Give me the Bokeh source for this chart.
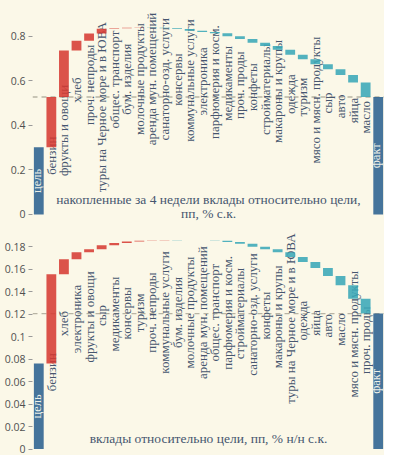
from bokeh.plotting import figure
from bokeh.models import Span, Label, FixedTicker
from bokeh.layouts import column
from bokeh.embed import file_html
from bokeh.resources import INLINE
from bokeh.core.properties import value

# ---------------- data: top chart ----------------
top_cats = ["цель", "бензин", "фрукты и овощи", "хлеб", "проч. непроды",
            "туры на Черное море и в ЮВА", "общес. транспорт", "бум. изделия",
            "молочные продукты", "аренда мун. помещений", "санаторно-озд. услуги",
            "консервы", "коммунальные услуги", "электроника", "парфюмерия и косм.",
            "медикаменты", "проч. проды", "конфеты", "стройматериалы",
            "макароны и крупы", "одежда", "туризм", "мясо и мясн. продукты",
            "сыр", "авто", "яйца", "масло", "факт"]
top_goal = 0.302
top_deltas = [0.225, 0.209, 0.043, 0.033, 0.021, 0.003, 0.002, 0.001,
              -0.001, -0.002, -0.004, -0.008, -0.005, -0.006, -0.013, -0.013,
              -0.016, -0.015, -0.017, -0.022, -0.021, -0.022, -0.022, -0.026,
              -0.034, -0.065]
top_ticks = [0, 0.2, 0.4, 0.6, 0.8]
top_tick_labels = ["0", "0.2", "0.4", "0.6", "0.8"]
top_title = ["накопленные за 4 недели вклады относительно цели,", "пп, % с.к."]

# ---------------- data: bottom chart ----------------
bot_cats = ["цель", "бензин", "хлеб", "электроника", "фрукты и овощи", "сыр",
            "медикаменты", "консервы", "туризм", "проч. непроды",
            "коммунальные услуги", "бум. изделия", "молочные продукты",
            "аренда мун. помещений", "общес. транспорт", "парфюмерия и косм.",
            "стройматериалы", "санаторно-озд. услуги", "конфеты",
            "макароны и крупы", "туры на Черное море и в ЮВА", "одежда", "яйца",
            "авто", "масло", "мясо и мясн. продукты", "проч. проды", "факт"]
bot_goal = 0.076
bot_deltas = [0.0795, 0.0133, 0.0062, 0.0028, 0.0034, 0.0021, 0.0012, 0.0008,
              0.0003, 0.0001, -0.0001, -0.0001, -0.0001, -0.0001, -0.0011,
              -0.0017, -0.0025, -0.0022, -0.0028, -0.0042, -0.0045, -0.0052,
              -0.0071, -0.0084, -0.0119, -0.0132]
bot_ticks = [0, 0.02, 0.04, 0.06, 0.08, 0.1, 0.12, 0.14, 0.16, 0.18]
bot_tick_labels = ["0", "0.02", "0.04", "0.06", "0.08", "0.1", "0.12", "0.14",
                   "0.16", "0.18"]
bot_title = ["вклады относительно цели, пп, % н/н с.к."]

BG = "#fbf8e8"
RED = "#d63b33"
TEAL = "#3aa7b7"
BLUE = "#2b618f"
TXT = "#46566f"
SERIF = "Liberation Serif"
CHAR_W = 6.2  # approx px per character of the 13px serif labels


def make_chart(cats, goal, deltas, ticks, tick_labels, title_lines, height,
               border_bottom, y_start, y_end, la, lb, title_ys):
    n = len(cats)
    xs = list(range(n))
    ppu = (height - border_bottom) / (y_end - y_start)  # px per data unit
    bottoms, tops, colors, incs = [0.0], [goal], [BLUE], [False]
    run = goal
    for d in deltas:
        nb = run + d
        bottoms.append(min(run, nb))
        tops.append(max(run, nb))
        colors.append(RED if d > 0 else TEAL)
        incs.append(d > 0)
        run = nb
    fact = run
    bottoms.append(0.0)
    tops.append(fact)
    colors.append(BLUE)
    incs.append(False)

    p = figure(width=384, height=height, x_range=(-0.5, n - 0.5),
               y_range=(y_start, y_end), output_backend="svg",
               toolbar_location=None, x_axis_location=None,
               min_border_left=32, min_border_right=0, min_border_top=0,
               min_border_bottom=border_bottom)
    p.background_fill_color = BG
    p.border_fill_color = BG
    p.outline_line_color = None
    p.grid.visible = False
    ax = p.yaxis[0]
    ax.ticker = FixedTicker(ticks=ticks)
    ax.major_label_overrides = {t: l for t, l in zip(ticks, tick_labels)}
    ax.axis_line_color = None
    ax.major_tick_in = 0
    ax.major_tick_out = 4
    ax.major_tick_line_color = "#9a9a9a"
    ax.minor_tick_line_color = None
    ax.major_label_text_font = "Open Sans"
    ax.major_label_text_font_size = "10.5px"
    ax.major_label_text_color = "#505050"
    ax.major_label_standoff = 3

    span = Span(location=fact, dimension="width", line_color="#b8b4a4",
                line_dash="5 4", line_width=1.3, level="underlay")
    p.add_layout(span)

    ox, oy, ot = [], [], []
    ix, iy, it = [], [], []
    for i in xs:
        mid = (bottoms[i] + tops[i]) / 2
        if i == 0 or i == n - 1:
            ix.append(i); iy.append(mid); it.append(cats[i])
            continue
        half = CHAR_W * len(cats[i]) / 2 / ppu
        c = la * mid + lb
        if incs[i]:
            c = min(c, bottoms[i] + 10 / ppu - half)
        c = min(c, y_end - half - 3 / ppu)
        c = max(c, y_start + half + 3 / ppu)
        ox.append(i); oy.append(c); ot.append(cats[i])
    p.text(x=ox, y=oy, text=ot, angle=1.5708, text_align="center",
           text_baseline="middle", text_font=value(SERIF),
           text_font_size="13px", text_color=TXT)

    p.vbar(x=xs, bottom=bottoms, top=tops, width=0.78, fill_color=colors,
           line_color=None, fill_alpha=0.88)

    p.text(x=ix, y=iy, text=it, angle=1.5708, text_align="center",
           text_baseline="middle", text_font=value(SERIF),
           text_font_size="12.5px", text_color="#eef0e8", x_offset=-2)

    for line, yy in zip(title_lines, title_ys):
        p.add_layout(Label(x=(n - 1) / 2, y=yy, text=line, text_align="center",
                           text_baseline="middle", text_font=SERIF,
                           text_font_size="13.5px", text_color=TXT))
    return p


p1 = make_chart(top_cats, top_goal, top_deltas, top_ticks, top_tick_labels,
                top_title, 222, 0, -0.036, 0.96, 0.615, 0.092, [0.068, 0.004])
p2 = make_chart(bot_cats, bot_goal, bot_deltas, bot_ticks, bot_tick_labels,
                bot_title, 233, 6, -0.0004, 0.2015, 0.421, 0.0433, [0.0095])

p = column(p1, p2, spacing=0)
p.styles = {"background-color": BG}
open("out.html", "w").write(file_html(p, INLINE))
